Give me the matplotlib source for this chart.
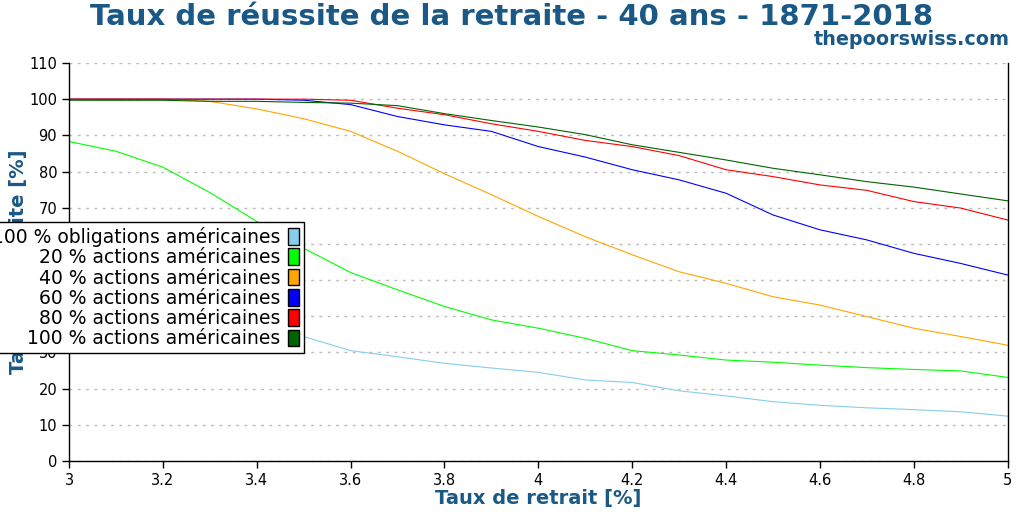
import numpy as np
import matplotlib.pyplot as plt
from matplotlib.patches import Patch

taux_retrait = [3.0, 3.1, 3.2, 3.3, 3.4, 3.5, 3.6, 3.7, 3.8, 3.9, 4.0,
                4.1, 4.2, 4.3, 4.4, 4.5, 4.6, 4.7, 4.8, 4.9, 5.0]

bonds_100 = [50.0, 46.0, 42.5, 39.5, 37.0, 34.4, 30.5, 28.8, 27.0, 25.7, 24.5,
             22.4, 21.7, 19.4, 18.0, 16.4, 15.4, 14.7, 14.2, 13.6, 12.4]
stocks_20 = [88.3, 85.6, 81.2, 74.2, 66.2, 58.8, 52.1, 47.3, 42.7, 39.0, 36.7,
             33.9, 30.5, 29.3, 27.9, 27.3, 26.5, 25.8, 25.3, 24.9, 23.1]
stocks_40 = [100.0, 100.0, 100.0, 99.4, 97.3, 94.6, 91.1, 85.6, 79.4, 73.6, 67.6,
             62.0, 57.0, 52.3, 49.1, 45.4, 43.1, 39.9, 36.7, 34.4, 32.0]
stocks_60 = [100.0, 100.0, 100.0, 100.0, 100.0, 99.7, 98.5, 95.2, 92.9, 91.1, 86.9,
             84.0, 80.5, 77.7, 74.0, 68.0, 63.9, 61.1, 57.4, 54.6, 51.4]
stocks_80 = [100.0, 100.0, 100.0, 100.0, 100.0, 100.0, 99.7, 97.5, 95.7, 93.2, 91.1,
             88.6, 86.9, 84.4, 80.5, 78.6, 76.3, 74.8, 71.7, 69.9, 66.6]
stocks_100 = [99.7, 99.7, 99.7, 99.4, 99.4, 99.1, 98.9, 98.2, 96.0, 94.1, 92.3,
              90.2, 87.4, 85.3, 83.2, 80.9, 79.1, 77.2, 75.7, 73.8, 71.9]

series = [bonds_100, stocks_20, stocks_40, stocks_60, stocks_80, stocks_100]
labels = ['100 % obligations américaines', '20 % actions américaines',
          '40 % actions américaines', '60 % actions américaines',
          '80 % actions américaines', '100 % actions américaines']
colors = ['#87ceeb', '#00ff00', '#ffa500', '#0000ff', '#ff0000', '#006400']

blue = '#1a5886'

fig = plt.figure(figsize=(10.24, 5.12), dpi=100)
ax = fig.add_axes([0.0674, 0.0996, 0.9166, 0.7774])

for vals, col in zip(series, colors):
    ax.plot(taux_retrait, vals, color=col, lw=0.8)

ax.set_xlim(3, 5)
ax.set_ylim(0, 110)
ax.set_xticks(np.arange(3, 5.01, 0.2))
ax.set_xticklabels(['3', '3.2', '3.4', '3.6', '3.8', '4', '4.2', '4.4', '4.6', '4.8', '5'])
ax.set_yticks(range(0, 111, 10))
ax.tick_params(labelsize=10.5, direction='out', length=5, width=1)
ax.grid(axis='y', linestyle=(0, (2, 4)), color='#bbbbbb', lw=1)
ax.spines['top'].set_visible(False)
for s in ['left', 'bottom', 'right']:
    ax.spines[s].set_linewidth(1)

ax.set_xlabel('Taux de retrait [%]', fontsize=14, fontweight='bold', color=blue, labelpad=1)
ax.set_ylabel('Taux de réussite [%]', fontsize=14, fontweight='bold', color=blue, labelpad=1)

fig.text(0.5, 0.995, 'Taux de réussite de la retraite - 40 ans - 1871-2018',
         ha='center', va='top', fontsize=21, fontweight='bold', color=blue)
fig.text(0.986, 0.905, 'thepoorswiss.com', ha='right', va='bottom',
         fontsize=13.8, fontweight='bold', color=blue)

handles = [Patch(facecolor=c, edgecolor='black', lw=1) for c in colors]
leg = fig.legend(handles, labels, loc='upper right', bbox_to_anchor=(0.297, 0.566),
                 markerfirst=False, fontsize=13.5, frameon=True, fancybox=False,
                 edgecolor='black', framealpha=1, labelspacing=0.07,
                 handlelength=0.6, handleheight=1.0, handletextpad=0.4,
                 borderpad=0.25, borderaxespad=0)
leg.get_frame().set_linewidth(1)
leg.set_zorder(10)
for t in leg.get_texts():
    t.set_ha('right')

fig.savefig('out.png', dpi=100)
